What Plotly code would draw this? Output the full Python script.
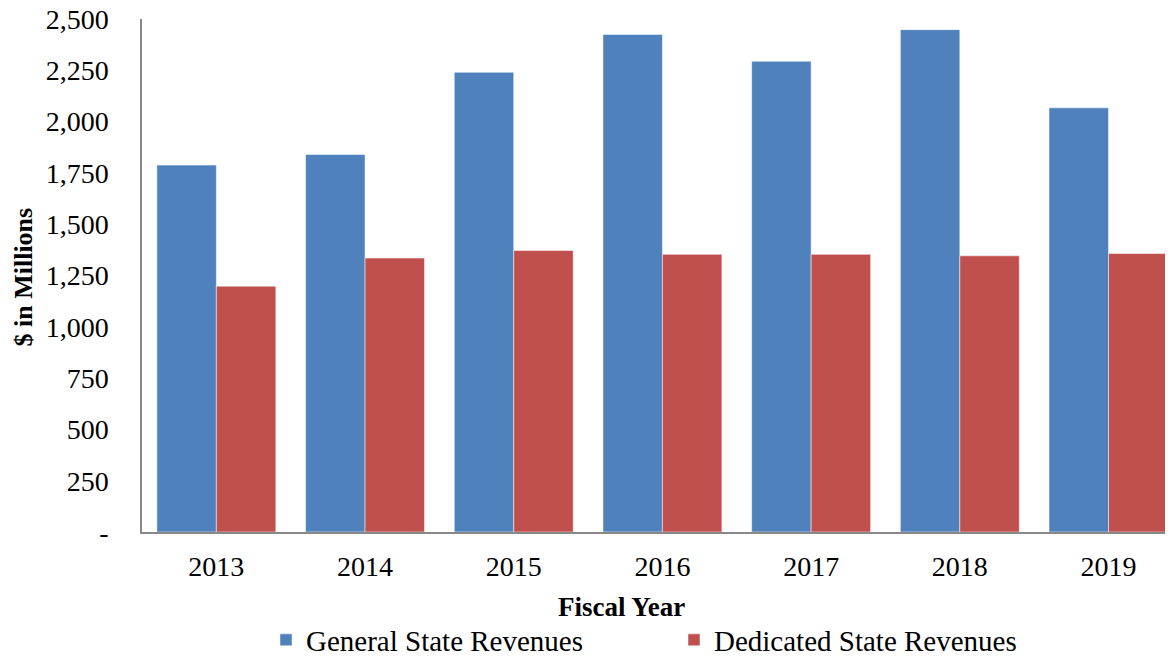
import plotly.graph_objects as go

years = ["2013", "2014", "2015", "2016", "2017", "2018", "2019"]
general = [1788, 1840, 2240, 2425, 2294, 2448, 2067]
dedicated = [1198, 1335, 1372, 1353, 1353, 1346, 1357]
ytick_vals = [0, 250, 500, 750, 1000, 1250, 1500, 1750, 2000, 2250, 2500]
ytick_text = ["-", "250", "500", "750", "1,000", "1,250", "1,500", "1,750", "2,000", "2,250", "2,500"]
x_title = "Fiscal Year"
y_title = "$ in Millions"

FONT = "Liberation Serif, Times New Roman, serif"
W, H = 1165, 652  # page body has an 8px default margin
L, R, T, B = 134, 5, 11, 128
PW, PH = W - L - R, H - T - B

fig = go.Figure()
fig.add_trace(go.Bar(x=years, y=general, name="General State Revenues", legend="legend",
                     marker=dict(color="#4F81BD", line=dict(color="rgba(255,255,255,0.5)", width=1))))
fig.add_trace(go.Bar(x=years, y=dedicated, name="Dedicated State Revenues", legend="legend2",
                     marker=dict(color="#C0504D", line=dict(color="rgba(255,255,255,0.5)", width=1))))

leg_common = dict(orientation="h", xref="container", yref="container", xanchor="left",
                  yanchor="middle", y=1 - 632 / H, font=dict(family=FONT, size=29),
                  itemwidth=30, bgcolor="rgba(0,0,0,0)")

fig.update_layout(
    width=W, height=H,
    margin=dict(l=L, r=R, t=T, b=B, autoexpand=False),
    paper_bgcolor="white", plot_bgcolor="white",
    barmode="group", bargap=0.2, bargroupgap=0,
    font=dict(family=FONT, color="black", size=28),
    showlegend=True,
    legend=dict(leg_common, x=258 / W),
    legend2=dict(leg_common, x=666 / W),
    xaxis=dict(type="category", range=[-0.5, 6.4], showline=True, linecolor="#888888", linewidth=1.5,
               ticks="", showgrid=False, ticklabelstandoff=9, automargin=False,
               tickfont=dict(family=FONT, size=28)),
    yaxis=dict(range=[0, 2500], tickvals=ytick_vals, ticktext=ytick_text, showline=True,
               linecolor="#888888", linewidth=1.5, ticks="", showgrid=False, zeroline=False,
               ticklabelstandoff=26, automargin=False, ticklabeloverflow="allow",
               tickfont=dict(family=FONT, size=28)),
    annotations=[
        dict(text="<b>" + x_title + "</b>", xref="paper", yref="paper",
             x=(613 - L) / PW, y=-(599 - (H - B)) / PH, xanchor="center", yanchor="middle",
             showarrow=False, font=dict(family=FONT, size=27)),
        dict(text="<b>" + y_title + "</b>", xref="paper", yref="paper", textangle=-90,
             x=(15 - L) / PW, y=((H - B) - 269.5) / PH, xanchor="center", yanchor="middle",
             showarrow=False, font=dict(family=FONT, size=26)),
    ],
)

fig.write_html("out.html")
